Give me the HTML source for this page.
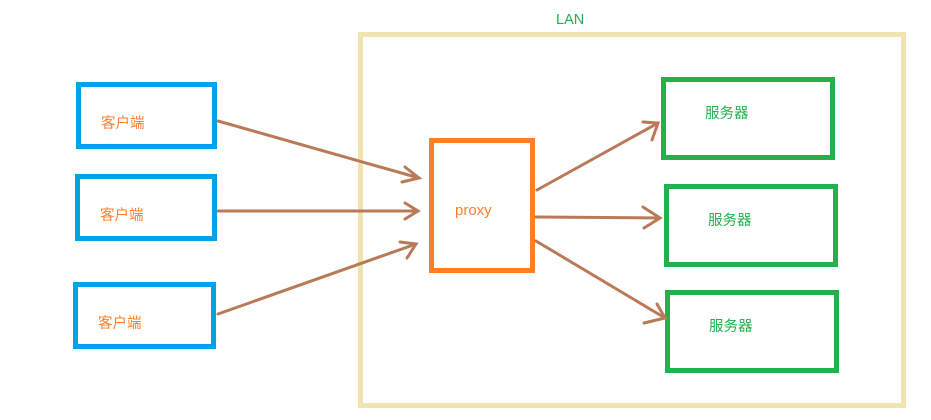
<!DOCTYPE html>
<html><head><meta charset="utf-8"><style>
html,body{margin:0;padding:0;background:#fff;width:931px;height:420px;overflow:hidden}
text{font-family:"Liberation Sans","Noto Sans CJK SC",sans-serif;font-size:14.5px}
</style></head><body>
<svg width="931" height="420" viewBox="0 0 931 420" xmlns="http://www.w3.org/2000/svg">
<rect x="360.5" y="34.5" width="543" height="371" fill="none" stroke="#efe4b0" stroke-width="5"/>
<g fill="none" stroke="#00a2e8" stroke-width="5">
<rect x="78.5" y="84.5" width="136" height="62"/>
<rect x="77.5" y="176.5" width="137" height="62"/>
<rect x="75.5" y="284.5" width="138" height="62"/>
</g>
<rect x="431.5" y="140.5" width="101" height="130" fill="none" stroke="#ff7f27" stroke-width="5"/>
<g fill="none" stroke="#22b14c" stroke-width="5">
<rect x="663.5" y="79.5" width="169" height="78"/>
<rect x="666.5" y="186.5" width="169" height="78"/>
<rect x="667.5" y="292.5" width="169" height="78"/>
</g>
<g stroke="#b97a57" stroke-width="3" fill="none" stroke-linecap="round">
<line x1="218" y1="121" x2="419" y2="178"/><polyline points="405,167 419,178 402,182"/>
<line x1="218" y1="211" x2="418" y2="211"/><polyline points="405,203 418,211 405,219"/>
<line x1="218" y1="314" x2="416" y2="244"/><polyline points="400,242 416,244 407,258"/>
<line x1="537" y1="190" x2="658" y2="123"/><polyline points="643,122 658,123 652,140"/>
<line x1="536" y1="217" x2="660" y2="218"/><polyline points="643,207 660,218 644,228"/>
<line x1="536" y1="241" x2="665" y2="318"/><polyline points="657,304 665,318 644,323"/>
</g>
<g fill="#ff7f27">
<text x="101" y="128">客户端</text>
<text x="100" y="220">客户端</text>
<text x="98" y="328">客户端</text>
<text x="455" y="215" style="font-size:15px">proxy</text>
</g>
<g fill="#22b14c">
<text x="705" y="118">服务器</text>
<text x="708" y="225">服务器</text>
<text x="709" y="331">服务器</text>
<text x="556" y="24">LAN</text>
</g>
</svg>
</body></html>
